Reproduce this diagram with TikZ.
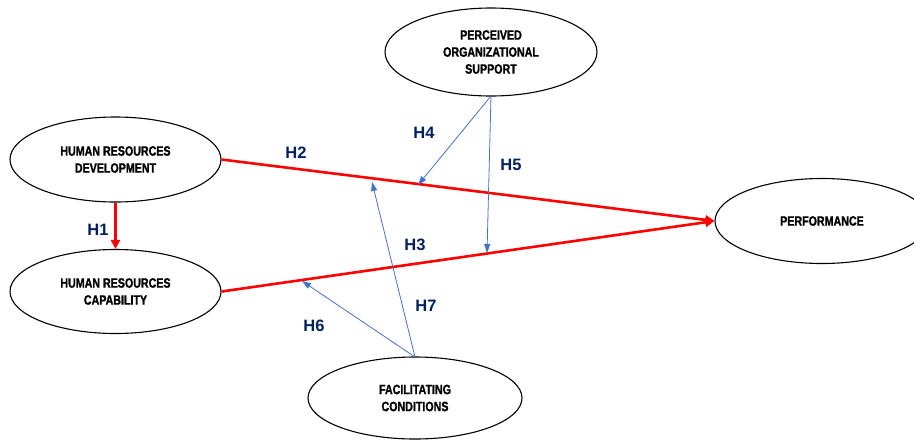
\documentclass[tikz,border=0pt]{standalone}
\usepackage{fontspec}
\setmainfont{Liberation Sans}
\newfontfamily\narrowfont[FakeStretch=0.79, FakeBold=1.3]{Liberation Sans Bold}
\usetikzlibrary{shapes.geometric,arrows.meta}
\definecolor{navy}{HTML}{002060}
\definecolor{hblue}{HTML}{4472C4}
\tikzset{
  construct/.style={ellipse, draw=black, line width=1.1pt, fill=white, inner sep=0pt,
    font=\narrowfont\fontsize{13.5}{17}\selectfont, align=center},
  mainpath/.style={draw=red, line width=2.6pt, -{Triangle[length=9pt,width=9pt]}},
  modpath/.style={draw=hblue, line width=0.8pt, -{Triangle[length=9pt,width=6pt]}},
  hlabel/.style={text=navy, font=\bfseries\fontsize{16.5}{18}\selectfont, inner sep=0pt}
}
\begin{document}
\begin{tikzpicture}[x=1pt,y=-1pt]
\useasboundingbox (0,0) rectangle (914,440);
\clip (0,0) rectangle (914,440);
\node[construct, minimum width=212pt, minimum height=88pt] (pos) at (491,52) {PERCEIVED\\ORGANIZATIONAL\\SUPPORT};
\node[construct, minimum width=211pt, minimum height=85pt] (hrd) at (115.5,159.5) {HUMAN RESOURCES\\DEVELOPMENT};
\node[construct, minimum width=211pt, minimum height=84pt] (hrc) at (115.5,291.5) {HUMAN RESOURCES\\CAPABILITY};
\node[construct, minimum width=214pt, minimum height=85pt] (perf) at (822,221) {PERFORMANCE};
\node[construct, minimum width=214pt, minimum height=82pt] (fc) at (415,398) {FACILITATING\\CONDITIONS};

\coordinate (posb) at (491,96);
\coordinate (fct) at (415,357);
\coordinate (h4end) at (418,185);
\coordinate (h5end) at (487,253);
\coordinate (h6end) at (302,281);
\coordinate (h7end) at (372,182);

\draw[mainpath] (hrd.south) -- (hrc.north);
\draw[mainpath] (hrd.east) -- (perf.west);
\draw[mainpath] (hrc.east) -- (perf.west);
\draw[modpath] (posb) -- (h4end);
\draw[modpath] (posb) -- (h5end);
\draw[modpath] (fct) -- (h6end);
\draw[modpath] (fct) -- (h7end);

\node[hlabel] (l1) at (98,230) {H1};
\node[hlabel] (l2) at (296,153) {H2};
\node[hlabel] (l3) at (415,245) {H3};
\node[hlabel] (l4) at (424,133) {H4};
\node[hlabel] (l5) at (511,165) {H5};
\node[hlabel] (l6) at (314,326) {H6};
\node[hlabel] (l7) at (426,306) {H7};
\end{tikzpicture}
\end{document}
